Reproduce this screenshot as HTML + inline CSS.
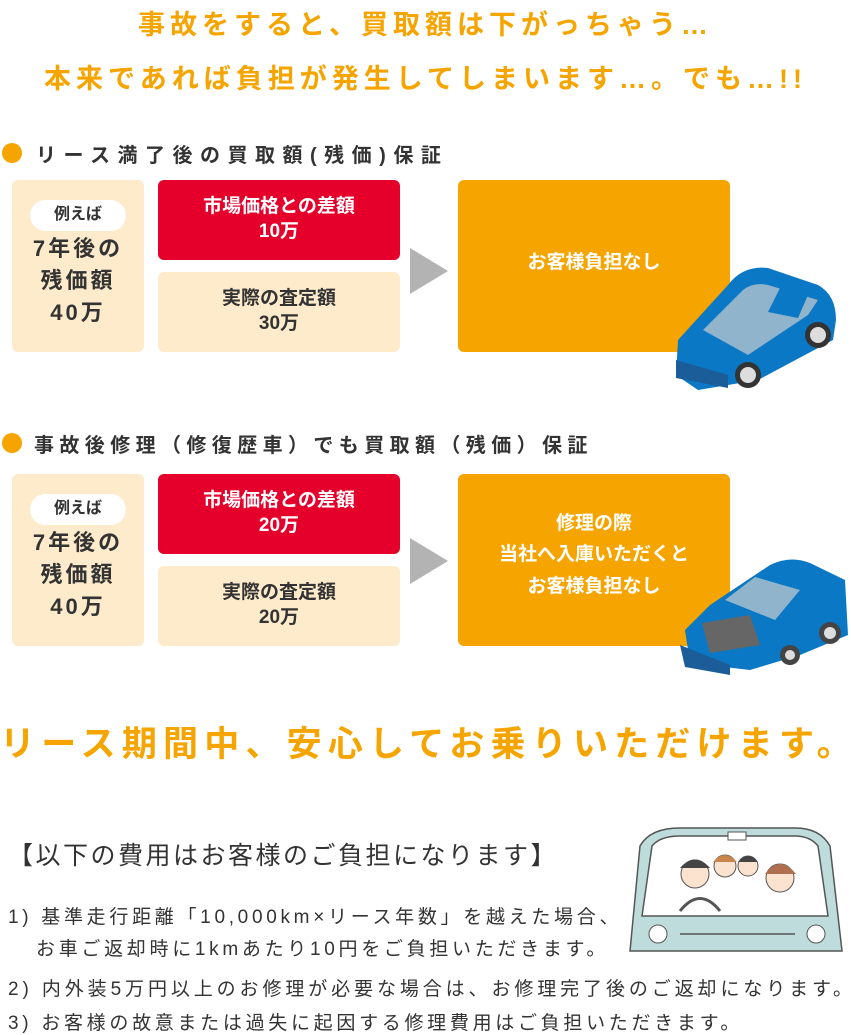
<!DOCTYPE html>
<html><head><meta charset="utf-8">
<style>
*{margin:0;padding:0;box-sizing:border-box}
body{width:851px;height:1033px;background:#fff;position:relative;overflow:hidden;font-family:"Liberation Sans","Noto Sans CJK JP",sans-serif;color:#333}
.a{position:absolute;white-space:nowrap}
.t{color:#f6a400;font-weight:bold;font-size:27px;letter-spacing:5px;left:0;width:851px;text-align:center}
.h{font-size:20px;font-weight:bold;letter-spacing:7.5px;color:#333}
.dot{width:20px;height:20px;border-radius:50%;background:#f6a400}
.box{position:absolute;border-radius:6px;display:flex;flex-direction:column;align-items:center;justify-content:center;text-align:center;font-weight:bold;line-height:1.3}
.cream{background:#fdebcb}
.red{background:#e4002b;color:#fff;font-size:19px}
.org{background:#f6a400;color:#fff;font-size:19px;line-height:1.65}
.pill{background:#fff;border-radius:16px;width:96px;height:31px;font-size:16px;display:flex;align-items:center;justify-content:center;margin-bottom:2px}
.big{font-size:22px;letter-spacing:3px;line-height:1.45}
.l{font-size:19px;letter-spacing:3.7px;color:#333}
</style></head><body>
<div class="a t" style="top:3px">事故をすると、買取額は下がっちゃう…</div>
<div class="a t" style="top:57px">本来であれば負担が発生してしまいます…。でも…!!</div>

<div class="a dot" style="left:2px;top:143px"></div>
<div class="a h" style="left:36px;top:139px">リース満了後の買取額(残価)保証</div>
<div class="box cream" style="left:12px;top:180px;width:132px;height:172px;justify-content:flex-start;padding-top:20px"><div class="pill">例えば</div><div class="big">7年後の<br>残価額<br>40万</div></div>
<div class="box red" style="left:158px;top:180px;width:242px;height:80px">市場価格との差額<br>10万</div>
<div class="box cream" style="left:158px;top:272px;width:242px;height:80px;font-size:19px">実際の査定額<br>30万</div>
<svg class="a" style="left:410px;top:248px" width="38" height="46"><polygon points="0,0 38,23 0,46" fill="#b3b3b3"/></svg>
<div class="box org" style="left:458px;top:180px;width:272px;height:172px;padding-bottom:6px">お客様負担なし</div>
<svg class="a" style="left:668px;top:260px" width="175" height="132" viewBox="0 0 175 132">
<path d="M10,80 L60,25 Q75,5 100,8 L150,25 Q168,35 168,60 L165,80 L90,120 L30,130 L8,115 Z" fill="#0a78c4"/>
<path d="M35,70 L75,30 Q85,22 100,25 L150,40 L140,55 L80,95 Z" fill="#8fb4cc"/>
<path d="M112,28 L140,35 L130,58 L100,52Z" fill="#0a78c4"/>
<path d="M8,100 L60,115 L60,128 L8,118Z" fill="#1a5d99"/>
<circle cx="150" cy="75" r="13" fill="#333"/><circle cx="150" cy="75" r="8" fill="#ddd"/>
<circle cx="80" cy="115" r="13" fill="#333"/><circle cx="80" cy="115" r="8" fill="#ddd"/>
</svg>

<div class="a dot" style="left:2px;top:433px"></div>
<div class="a h" style="left:34px;top:429px;letter-spacing:5.4px">事故後修理（修復歴車）でも買取額（残価）保証</div>
<div class="box cream" style="left:12px;top:474px;width:132px;height:172px;justify-content:flex-start;padding-top:20px"><div class="pill">例えば</div><div class="big">7年後の<br>残価額<br>40万</div></div>
<div class="box red" style="left:158px;top:474px;width:242px;height:80px">市場価格との差額<br>20万</div>
<div class="box cream" style="left:158px;top:566px;width:242px;height:80px;font-size:19px">実際の査定額<br>20万</div>
<svg class="a" style="left:410px;top:538px" width="38" height="46"><polygon points="0,0 38,23 0,46" fill="#b3b3b3"/></svg>
<div class="box org" style="left:458px;top:474px;width:272px;height:172px;padding-bottom:10px">修理の際<br>当社へ入庫いただくと<br>お客様負担なし</div>
<svg class="a" style="left:680px;top:545px" width="171" height="140" viewBox="0 0 171 140">
<path d="M30,60 L90,20 Q110,10 130,18 L165,35 L168,90 L120,110 L70,125 L10,118 L5,85 Z" fill="#0a78c4"/>
<path d="M45,55 L75,32 L120,45 L95,75Z" fill="#8fb4cc"/>
<path d="M22,78 L70,70 L80,100 L30,108Z" fill="#666"/>
<path d="M0,100 L50,120 L50,130 L5,122Z" fill="#1a5d99"/>
<circle cx="150" cy="88" r="11" fill="#444"/><circle cx="150" cy="88" r="6" fill="#ddd"/>
<circle cx="110" cy="110" r="10" fill="#444"/><circle cx="110" cy="110" r="5" fill="#ddd"/>
</svg>

<div class="a" style="left:0;top:716px;font-size:35px;font-weight:bold;color:#f6a400;letter-spacing:6.2px">リース期間中、安心してお乗りいただけます。</div>

<div class="a" style="left:8px;top:836px;font-size:25px;letter-spacing:2.5px">【以下の費用はお客様のご負担になります】</div>
<div class="a l" style="left:8px;top:902px">1) 基準走行距離「10,000km×リース年数」を越えた場合、</div>
<div class="a l" style="left:36px;top:934px">お車ご返却時に1kmあたり10円をご負担いただきます。</div>
<div class="a l" style="left:8px;top:974px;letter-spacing:3.9px">2) 内外装5万円以上のお修理が必要な場合は、お修理完了後のご返却になります。</div>
<div class="a l" style="left:8px;top:1008px">3) お客様の故意または過失に起因する修理費用はご負担いただきます。</div>

<svg class="a" style="left:620px;top:826px" width="231" height="128" viewBox="0 0 231 128">
<path d="M20,20 Q30,2 60,2 L175,2 Q200,2 210,20 L222,125 L10,125 Z" fill="#bfdcdc" stroke="#555" stroke-width="1.5"/>
<path d="M32,20 Q40,10 60,10 L175,10 Q190,10 198,20 L208,90 L22,90 Z" fill="#fff" stroke="#555" stroke-width="1.5"/>
<rect x="108" y="6" width="18" height="8" fill="#fff" stroke="#555"/>
<circle cx="75" cy="48" r="14" fill="#fbe3cf" stroke="#555"/><path d="M60,42 Q75,25 90,42" fill="#444"/>
<circle cx="105" cy="40" r="11" fill="#fbe3cf" stroke="#555"/><path d="M93,36 Q105,22 117,36" fill="#c8864a"/>
<circle cx="128" cy="40" r="10" fill="#fbe3cf" stroke="#555"/><path d="M118,36 Q128,24 138,36" fill="#444"/>
<circle cx="160" cy="52" r="14" fill="#fbe3cf" stroke="#555"/><path d="M145,48 Q160,28 176,48" fill="#b07050"/>
<path d="M60,85 Q80,60 100,85" fill="none" stroke="#555" stroke-width="3"/>
<circle cx="38" cy="108" r="9" fill="#fff" stroke="#555"/><circle cx="196" cy="108" r="9" fill="#fff" stroke="#555"/>
<line x1="60" y1="108" x2="175" y2="108" stroke="#555" stroke-width="1.5"/>
</svg>
</body></html>
